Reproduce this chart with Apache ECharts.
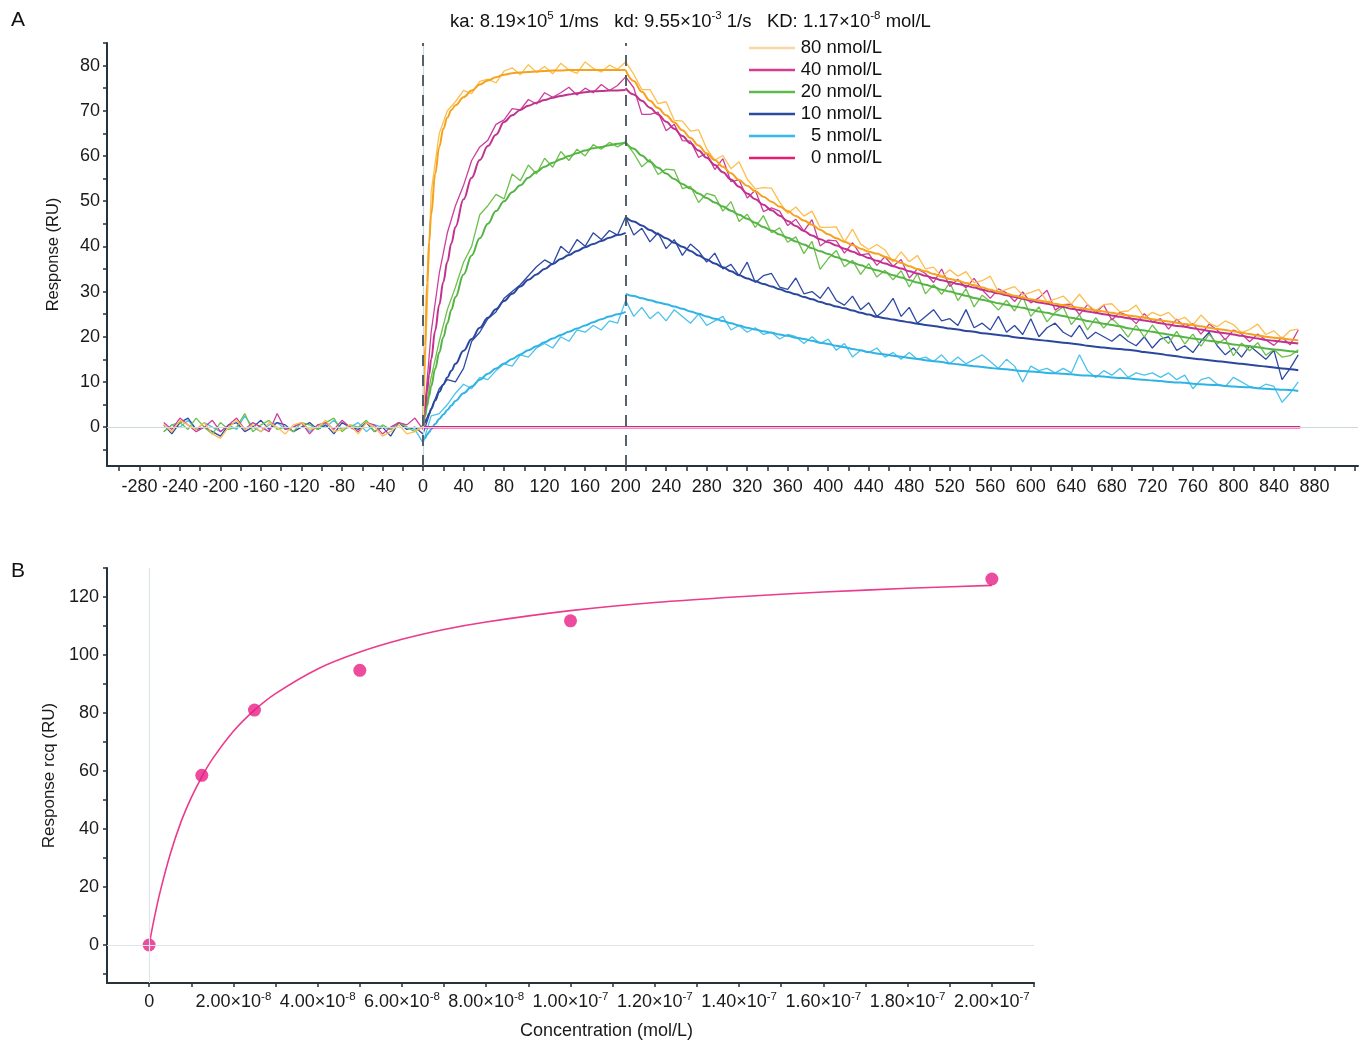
<!DOCTYPE html>
<html><head><meta charset="utf-8">
<script src="https://cdn.jsdelivr.net/npm/echarts@6/dist/echarts.min.js"></script>
<style>html,body{margin:0;padding:0;background:#fff}#c{width:1370px;height:1041px}</style>
</head><body><div id="c"></div>
<script>
// ---------- Chart A data ----------
const rawT = [-256,-248,-240,-232,-224,-216,-208,-200,-192,-184,-176,-168,-160,-152,-144,-136,-128,-120,-112,-104,-96,-88,-80,-72,-64,-56,-48,-40,-32,-24,-16,-8,0,
8,16,24,32,40,48,56,64,72,80,88,96,104,112,120,128,136,144,152,160,168,176,184,192,200,
208,216,224,232,240,248,256,264,272,280,288,296,304,312,320,328,336,344,352,360,368,376,384,392,400,408,416,424,432,440,448,456,464,472,480,488,496,504,512,520,528,536,544,552,560,568,576,584,592,600,608,616,624,632,640,648,656,664,672,680,688,696,704,712,720,728,736,744,752,760,768,776,784,792,800,808,816,824,832,840,848,856,864];
const fitAssocT = [0,2,4,6,8,12,16,20,24,28,32,40,48,56,64,72,80,88,96,104,112,120,128,136,144,152,160,168,176,184,192,200];
const fitDissT = [200,208,216,224,232,240,248,256,264,272,280,288,296,304,312,320,328,336,344,352,360,368,376,384,392,400,408,416,424,432,440,448,456,464,472,480,488,496,504,512,520,528,536,544,552,560,568,576,584,592,600,608,616,624,632,640,648,656,664,672,680,688,696,704,712,720,728,736,744,752,760,768,776,784,792,800,808,816,824,832,840,848,856,864];

const raw80 = [0.5,-1,1.5,0.5,-0.5,1,-1.5,-2.5,0,1.5,-0.5,0.5,-1,1,0,-1.5,0.5,1,-0.5,0,1.5,-1,-0.5,0.5,-1.5,1,0,-2,-1,0.5,-1.5,-1,0,
52,65,70,72,74.5,73.8,76.5,77,76.2,78.8,79.5,78,80.2,78.5,79.8,78.2,80.5,79,78.3,80.8,79.4,78.6,80.1,79.2,80.8,
78.1,74.7,74.7,71.6,72,67.9,67.7,65.5,65.8,61.6,59.1,60.1,57.2,58.7,54.9,52.7,53,52.9,49.8,47.3,48.7,46.7,47.8,44.2,44.2,44.3,41,43.8,40.5,39.3,40.4,39.2,36.5,38.8,36.6,38,35,35.4,33.3,34.8,33.4,34.4,31.9,32.4,33.4,29.9,30.5,31.1,29.2,29.8,30.5,27.7,28.3,29,27.2,29.4,27.1,25.8,27.1,27.3,25.5,25.7,27,24.2,25.4,24.6,25.4,23.6,24.3,22.6,24.8,23,22.2,23.5,22.7,20.9,21.6,22.8,20.5,21.3,19.6,21.4,21.7];
const fitA80 = [0,18,32,41,47,56,62,66,68.5,70.2,71.2,73,74.5,75.8,76.7,77.4,78,78.3,78.5,78.6,78.7,78.8,78.9,78.9,79,79,79,79,79,79,79,79];
const fitD80 = [79,76.6,74.2,72.2,70.6,69,67.4,65.7,64,62.3,60.6,59.1,57.6,56.2,54.7,53.4,52.2,51,49.9,48.8,47.8,46.7,45.7,44.8,43.7,42.7,41.8,41,40.3,39.5,38.8,38.4,37.7,37,36.3,35.6,35,34.5,33.9,33.3,32.8,32.4,31.9,31.4,30.9,30.4,29.9,29.5,29.1,28.7,28.3,28,27.7,27.3,27,26.7,26.4,26.1,25.8,25.6,25.3,25,24.7,24.5,24.2,23.9,23.6,23.4,23.1,22.8,22.6,22.3,22,21.7,21.5,21.2,20.9,20.6,20.3,20,19.8,19.6,19.4,19.2];

const raw40 = [1,-0.5,2,0.5,-1,0,1.5,-1,0.5,2,-0.5,1,0,-1,3,-0.5,0,1,-1.5,0.5,1,-0.5,1.5,0,-1,1,0.5,-1.5,0,1,0.5,2,-0.5,
21,34,43,49,53.5,59,62,63.5,67,68,70.5,70.2,72.5,71.5,74,73,74,75.2,73.5,75,74,75.8,74.5,75.6,77.5,
75.1,69.2,69.2,69.7,65.6,67,63.4,63.3,59.7,60.6,57,59.4,54.3,54.7,50.7,52.4,47.7,48.5,47.8,44.6,46,43.4,45.9,40.1,41.4,41.2,38.5,40.8,38.1,38.4,35.8,37.7,35.6,37.1,33,35,34,32,35,31.1,32.7,30.8,32.9,30.4,28.5,30.6,29.7,27.8,29.9,27.5,28.6,30.3,25.9,27.1,27.2,24.9,27.1,25.3,27,23.7,25.4,24.6,22.9,25.1,23.3,24,21.7,23.9,22.2,22.9,20.6,22.8,21.5,19.3,21.5,20.7,18.9,20.6,19.3,18.1,19.9,18.2,21.5];
const fitA40 = [0,4.1,8,11.6,15,21.4,27.1,32.1,36.6,40.7,44.3,50.4,55.2,59.1,62.2,64.7,67.5,69,70.2,71.1,71.8,72.4,72.9,73.3,73.6,73.9,74.1,74.3,74.4,74.5,74.5,74.6];
const fitD40 = [75,73.6,72.2,70.7,69.2,67.6,66,64.4,62.8,61.2,59.6,58,56.4,54.8,53.2,51.7,50.4,49.2,48,46.8,45.6,44.5,43.4,42.4,41.6,40.9,40.2,39.5,38.8,38.1,37.4,36.8,36.2,35.6,35.1,34.5,34,33.5,33,32.5,32.1,31.7,31.3,30.9,30.4,30,29.6,29.2,28.8,28.4,28,27.6,27.3,26.9,26.6,26.2,25.9,25.6,25.3,25,24.7,24.4,24.1,23.9,23.6,23.3,23,22.7,22.4,22.2,21.9,21.6,21.3,21,20.8,20.5,20.2,19.9,19.6,19.3,19.1,18.9,18.7,18.5];

const raw20 = [-1,0.5,1,-0.5,2,0,-1.5,1,-0.5,0,3,-1,0.5,1.5,-0.5,0,-1,1,0.5,-0.5,1,2,-1,0.5,0,1.5,-1,0.5,-0.5,1,0,-1,0.5,
11,19,26,31,36.5,40,47,49,51.5,50.5,56,54.5,58,56,59.5,57.5,61,59,61.5,60,62.5,61.5,63,62,63,
60.6,57.6,59.2,55.9,57.1,56.9,52.8,53.3,49.7,51.7,51.2,47.8,49.9,45.5,47.1,44.2,46.8,43,44.1,40.9,42.1,38.4,41.1,34.9,37.3,39.1,35.5,36.9,33.8,36.2,33.2,34.7,32.6,34.6,31,34,29.5,31.5,29.4,32,28,30.6,26.6,29.2,27.8,25.9,28.1,25.7,28.9,24.5,26.6,23.3,25.4,26.6,22.7,24.9,21.5,24.2,21.9,24.1,22.3,19.9,22.6,19.9,22.6,20.3,18.5,21.2,18.4,20.6,17.9,20.6,18.4,19.6,15.8,18.6,16.9,18.7,15.9,17.2,15.5,15.8,17.1];
const fitA20 = [0,2.4,4.7,6.9,9,12.9,16.5,19.9,23,26,28.8,33.8,38,41.8,45,47.8,50,52,53.5,55.2,56.5,57.6,58.5,59.3,60,60.6,61.2,61.7,62,62.4,62.7,63];
const fitD20 = [63,61.6,60.1,58.7,57.4,56.1,54.9,53.8,52.8,51.7,50.7,49.7,48.8,47.9,47,46.1,45.2,44.3,43.5,42.6,41.9,41.1,40.4,39.6,38.9,38.3,37.6,37,36.4,35.8,35.2,34.7,34.2,33.6,33.1,32.5,32,31.5,31,30.4,30,29.5,29.1,28.6,28.2,27.8,27.4,27.1,26.7,26.4,26,25.6,25.3,24.9,24.6,24.2,23.9,23.5,23.2,22.9,22.6,22.3,21.9,21.6,21.4,21.1,20.8,20.5,20.2,19.9,19.6,19.4,19.1,18.9,18.6,18.3,18.1,17.9,17.7,17.4,17.2,17,16.8,16.6];

const raw10 = [0.5,-1.5,1,2,-0.5,0,-1,-2,0.5,1,-1,0,1.5,-0.5,1,0.5,-1,0,1,-0.5,0.5,-1.5,1,0,-0.5,1,-1,0,-2,1,-0.5,0,-1.5,
4,8.5,10.5,10,13,19,21,24,25.5,28.5,30,31.5,33.5,35.5,37,36,40,38.5,41.5,40,43,41.5,43.5,42.5,46.5,
42.5,44,41,43,39.5,41.5,38,40.5,39,36.5,38.5,35,36,33.5,36.5,32,33.5,34,31,30.5,33,29.5,30,28.5,31,28,27,29,26,27.5,24.5,26,28.5,24.5,26.5,23,24.5,26,23.5,24,22.5,26,22,23,21.5,24.5,21,22.5,20.5,24,20,22,23,21,20,22.5,19.5,21,20,19,20.5,19,18,20,17.5,19.5,20,17,18,16.5,19,21,18,16,17.5,15.5,18,16.5,15,17,10.5,13,16];
const fitA10 = [0,1,2,3,4,5.9,7.8,9.4,11,12.5,14,16.9,19.5,22,24.2,26.1,27.9,29.5,31.1,32.6,33.8,35,36.1,37.2,38.1,39,39.8,40.5,41.2,41.9,42.5,43];
const fitD10 = [46.5,45.5,44.6,43.6,42.7,41.8,40.8,39.9,39,38,37.1,36.2,35.4,34.5,33.6,32.9,32.3,31.7,31.1,30.5,29.9,29.4,28.8,28.3,27.7,27.2,26.7,26.3,25.8,25.3,24.9,24.4,24.1,23.8,23.5,23.2,22.9,22.6,22.4,22.1,21.8,21.6,21.3,21.1,20.8,20.6,20.4,20.2,19.9,19.7,19.5,19.3,19.1,18.9,18.7,18.5,18.3,18,17.8,17.6,17.4,17.3,17.1,16.9,16.6,16.4,16.2,15.9,15.7,15.4,15.2,15,14.8,14.6,14.4,14.2,14,13.8,13.6,13.4,13.2,13,12.8,12.6];

const raw5 = [-1,0.5,0,1.5,-0.5,1,0,-1,0.5,-0.5,2.5,0,-1,0.5,1,-0.5,0,1,-1,0.5,0,1.5,-0.5,0,1,-1,0.5,0,-0.5,1,0,-0.5,-3.5,
2.5,3,5,7.5,9.5,8.5,11,10.5,12.5,14,13.5,16,15.5,17.5,18.5,17.5,20,19,21.5,21,22.5,21.5,23.5,23,28,
24.5,26.5,24,25.5,23.5,26,24.5,23,25,22.5,23.5,24.5,21.5,22.5,21,22,20.5,21,19.5,20.5,20,18.5,20,18.5,19.5,17,18.5,15.5,17,16.5,17.5,15.5,16.5,15,16.5,15,15.5,14.5,16,14,15.5,14,15,16,14.5,13,15,13.5,10,13.5,12.5,13,12,13,12,16,12.5,11,12.5,11.5,13,11,12,11.5,12,11,12,10.5,11.5,8.5,10.5,11,9.5,9,11,10,9,8.5,9.5,9,5.5,7.5,10];
const fitA5 = [-3,-2.4,-1.7,-1.1,-0.5,0.7,1.8,2.8,3.8,4.8,5.8,7.5,9,10.5,11.8,13,14.1,15.1,16.1,17,17.9,18.8,19.6,20.4,21.1,21.8,22.5,23.2,23.9,24.5,25,25.5];
const fitD5 = [29.5,29,28.5,28.1,27.6,27.2,26.7,26.2,25.6,25.1,24.5,24,23.5,23,22.5,22,21.6,21.2,20.9,20.5,20.2,19.8,19.5,19.1,18.7,18.4,18,17.7,17.3,17,16.6,16.3,16.1,15.8,15.6,15.3,15.1,14.8,14.6,14.4,14.1,13.9,13.7,13.5,13.3,13.1,12.9,12.8,12.6,12.4,12.3,12.2,12,11.9,11.8,11.7,11.5,11.4,11.3,11.2,11,10.9,10.8,10.6,10.5,10.3,10.2,10,9.9,9.8,9.6,9.5,9.4,9.3,9.1,9,8.9,8.8,8.6,8.5,8.4,8.3,8.2,8];

const zeroT = [0, 866];
const zeroV = [0, 0];

const xLabelsA = [-280,-240,-200,-160,-120,-80,-40,0,40,80,120,160,200,240,280,320,360,400,440,480,520,560,600,640,680,720,760,800,840,880];
const xTicksA = [-300,-280,-260,-240,-220,-200,-180,-160,-140,-120,-100,-80,-60,-40,-20,0,20,40,60,80,100,120,140,160,180,200,220,240,260,280,300,320,340,360,380,400,420,440,460,480,500,520,540,560,580,600,620,640,660,680,700,720,740,760,780,800,820,840,860,880,900,920];
const yLabelsA = [0,10,20,30,40,50,60,70,80];
const yTicksA = [-5,0,5,10,15,20,25,30,35,40,45,50,55,60,65,70,75,80,85];

// ---------- Chart B data ----------
const concB = [0, 1.25e-8, 2.5e-8, 5e-8, 1e-7, 2e-7];
const respB = [0, 58.5, 81, 94.7, 111.8, 126.2];
const fitBx = [0,0.1e-8,0.25e-8,0.5e-8,0.75e-8,1e-8,1.25e-8,1.5e-8,2e-8,2.5e-8,3e-8,4e-8,5e-8,6e-8,7e-8,8e-8,10e-8,12e-8,14e-8,16e-8,18e-8,20e-8];
const fitBy = [0,7.7,17.7,31.3,42.2,50.8,58,64.1,73.7,81,86.7,95.2,101,105.4,108.8,111.4,115.3,118.1,120.1,121.7,123,124];
const xLabelsB = [0,2e-8,4e-8,6e-8,8e-8,10e-8,12e-8,14e-8,16e-8,18e-8,20e-8];
const xTicksB = [0,1e-8,2e-8,3e-8,4e-8,5e-8,6e-8,7e-8,8e-8,9e-8,10e-8,11e-8,12e-8,13e-8,14e-8,15e-8,16e-8,17e-8,18e-8,19e-8,20e-8,21e-8];
const yLabelsB = [0,20,40,60,80,100,120];
const yTicksB = [-10,0,10,20,30,40,50,60,70,80,90,100,110,120,130];

function zip(xs, ys){ const o=[]; const n=Math.min(xs.length, ys.length); for(let i=0;i<n;i++) o.push([xs[i], ys[i]]); return o; }

const AX = '#26323c';
const LBL = '#1a1a1a';
const FONT = 'Liberation Sans, Arial, sans-serif';

const concs = [
  {name:'5 nmol/L',  raw: raw5,  fa: fitA5,  fd: fitD5,  rc:'#4cc2ec', fc:'#2fb3e5', lc:'#36b9ea'},
  {name:'10 nmol/L', raw: raw10, fa: fitA10, fd: fitD10, rc:'#2e4aa3', fc:'#2a479e', lc:'#2c4b9f'},
  {name:'20 nmol/L', raw: raw20, fa: fitA20, fd: fitD20, rc:'#6cc04c', fc:'#55b445', lc:'#5eba4c'},
  {name:'40 nmol/L', raw: raw40, fa: fitA40, fd: fitD40, rc:'#cc3e9c', fc:'#c0328d', lc:'#d63a92'},
  {name:'80 nmol/L', raw: raw80, fa: fitA80, fd: fitD80, rc:'#fdbe4e', fc:'#f5a21c', lc:'#fcd7a4'}
];

const series = [];
series.push({type:'line', xAxisIndex:0, yAxisIndex:0, data:[], silent:true, z:1,
  markLine:{silent:true, symbol:['none','none'], label:{show:false}, animation:false,
    lineStyle:{color:'#cdd7de', width:1.2, type:'solid'},
    data:[{yAxis:0},{xAxis:0}]}});
concs.forEach(c => {
  series.push({type:'line', name:c.name, xAxisIndex:0, yAxisIndex:0, data: zip(rawT, c.raw),
    showSymbol:false, lineStyle:{color:c.rc, width:1.3}, itemStyle:{color:c.lc}, z:2});
  series.push({type:'line', name:c.name, xAxisIndex:0, yAxisIndex:0, data: zip(fitAssocT, c.fa),
    showSymbol:false, smooth:0.4, smoothMonotone:'x', lineStyle:{color:c.fc, width:2}, itemStyle:{color:c.lc}, z:3});
  series.push({type:'line', name:c.name, xAxisIndex:0, yAxisIndex:0, data: zip(fitDissT, c.fd),
    showSymbol:false, smooth:0.4, smoothMonotone:'x', lineStyle:{color:c.fc, width:2}, itemStyle:{color:c.lc}, z:3});
});
series.push({type:'line', name:'0 nmol/L', xAxisIndex:0, yAxisIndex:0, data: zip(zeroT, zeroV),
  showSymbol:false, lineStyle:{color:'#ec1a7d', width:2.5}, itemStyle:{color:'#e91e70'}, z:4,
  markLine:{silent:true, symbol:['none','none'], label:{show:false}, animation:false,
    lineStyle:{color:'#46525c', width:1.8, type:[11,9]},
    data:[{xAxis:0},{xAxis:200}]}});

series.push({type:'line', xAxisIndex:1, yAxisIndex:1, data:[], silent:true, z:1,
  markLine:{silent:true, symbol:['none','none'], label:{show:false}, animation:false,
    lineStyle:{color:'#dde4ea', width:1.2, type:'solid'},
    data:[{yAxis:0},{xAxis:0}]}});
series.push({type:'line', xAxisIndex:1, yAxisIndex:1, data: zip(fitBx, fitBy), smooth:0.3,
  showSymbol:false, lineStyle:{color:'#ec3a8c', width:1.6}, z:2});
series.push({type:'scatter', xAxisIndex:1, yAxisIndex:1, data: zip(concB, respB), symbolSize:13,
  itemStyle:{color:'#e91e84'}, z:3});

function axisCommon(){
  return {
    axisLine:{show:true, onZero:false, lineStyle:{color:AX, width:2}},
    splitLine:{show:false}
  };
}

const option = {
  animation:false,
  textStyle:{fontFamily:FONT},
  title:{
    text:'{n|ka: 8.19×10}{s|5}{n| 1/ms   kd: 9.55×10}{s|-3}{n| 1/s   KD: 1.17×10}{s|-8}{n| mol/L}',
    left:445, top:5,
    textStyle:{fontWeight:'normal', fontFamily:FONT,
      rich:{n:{fontSize:18.5, color:'#111', lineHeight:24, fontFamily:FONT},
            s:{fontSize:11.5, color:'#111', lineHeight:14, verticalAlign:'top', fontFamily:FONT}}}
  },
  graphic:[
    {type:'text', left:11, top:10, style:{text:'A', fontSize:21, fill:'#111', fontFamily:FONT}},
    {type:'text', left:11, top:561, style:{text:'B', fontSize:21, fill:'#111', fontFamily:FONT}}
  ],
  legend:{
    selectedMode:false, left:744, top:32, orient:'vertical', itemGap:0,
    itemWidth:46, itemHeight:2.5, icon:'rect',
    formatter: n => '{t|' + n + '}',
    textStyle:{fontSize:18.5, color:'#111', fontFamily:FONT,
      rich:{t:{width:82, height:22, align:'right', fontSize:18.5, lineHeight:22, color:'#111', fontFamily:FONT}}},
    data:[
      {name:'80 nmol/L', itemStyle:{color:'#fcd7a4'}},
      {name:'40 nmol/L', itemStyle:{color:'#d63a92'}},
      {name:'20 nmol/L', itemStyle:{color:'#5eba4c'}},
      {name:'10 nmol/L', itemStyle:{color:'#2c4b9f'}},
      {name:'5 nmol/L', itemStyle:{color:'#36b9ea'}},
      {name:'0 nmol/L', itemStyle:{color:'#e91e70'}}
    ]
  },
  grid:[
    {left:107, right:12, top:43, bottom:575},
    {left:107, right:336, top:568, bottom:58}
  ],
  xAxis:[
    Object.assign(axisCommon(), {type:'value', gridIndex:0, min:-312, max:923,
      axisTick:{show:true, customValues:xTicksA, length:5, lineStyle:{color:AX, width:1.5}},
      axisLabel:{customValues:xLabelsA, fontSize:18, color:LBL, margin:12, fontFamily:FONT}}),
    Object.assign(axisCommon(), {type:'value', gridIndex:1, min:-1e-8, max:2.1e-7,
      name:'Concentration (mol/L)', nameLocation:'middle', nameGap:39,
      nameTextStyle:{fontSize:18, color:LBL, fontFamily:FONT, padding:[0,0,0,72]},
      axisTick:{show:true, customValues:xTicksB, length:4, lineStyle:{color:AX, width:1.5}},
      axisLabel:{customValues:xLabelsB, margin:8, color:LBL, fontFamily:FONT,
        formatter: v => {
          if (Math.abs(v) < 1e-15) return '{m|0}';
          const p = v.toExponential(2).split('e');
          return '{m|' + p[0] + '×10}{s|' + p[1] + '}';
        },
        rich:{m:{fontSize:18, color:LBL, lineHeight:22, fontFamily:FONT},
              s:{fontSize:11.5, color:LBL, lineHeight:13, verticalAlign:'top', fontFamily:FONT}}}})
  ],
  yAxis:[
    Object.assign(axisCommon(), {type:'value', gridIndex:0, min:-8.6, max:85,
      name:'Response (RU)', nameLocation:'middle', nameGap:45,
      nameTextStyle:{fontSize:16.5, color:LBL, fontFamily:FONT},
      axisTick:{show:true, customValues:yTicksA, length:4, lineStyle:{color:AX, width:1.5}},
      axisLabel:{customValues:yLabelsA, fontSize:18, color:LBL, margin:7, fontFamily:FONT}}),
    Object.assign(axisCommon(), {type:'value', gridIndex:1, min:-13.1, max:130,
      name:'Response rcq (RU)', nameLocation:'middle', nameGap:47,
      nameTextStyle:{fontSize:17, color:LBL, fontFamily:FONT},
      axisTick:{show:true, customValues:yTicksB, length:4, lineStyle:{color:AX, width:1.5}},
      axisLabel:{customValues:yLabelsB, fontSize:18, color:LBL, margin:8, fontFamily:FONT}})
  ],
  series: series
};

const chart = echarts.init(document.getElementById('c'), null, {renderer:'canvas'});
chart.setOption(option);
</script>
</body></html>
